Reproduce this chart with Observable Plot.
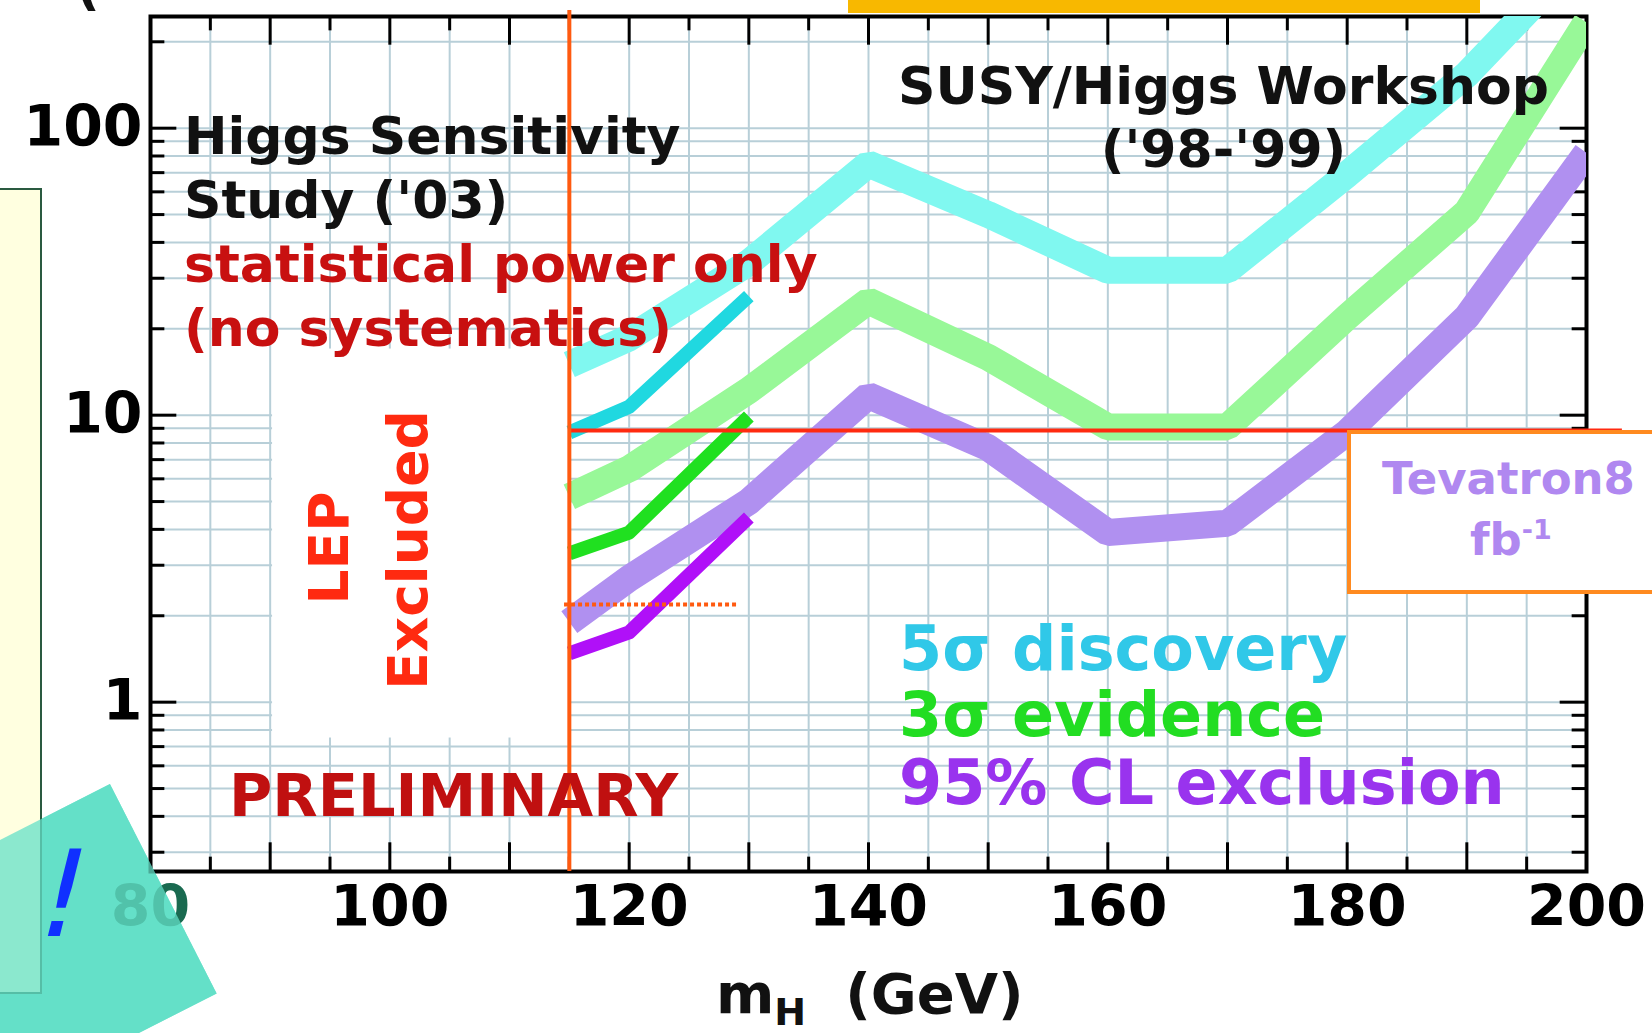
<!DOCTYPE html>
<html><head><meta charset="utf-8">
<script src="https://cdn.jsdelivr.net/npm/d3@7"></script>
<script src="https://cdn.jsdelivr.net/npm/@observablehq/plot@0.6"></script>
<style>
body{margin:0;background:#fff;overflow:hidden}
#wrap{position:relative;width:1652px;height:1033px;font-family:"DejaVu Sans",Verdana,sans-serif;font-weight:bold}
.t{position:absolute;white-space:nowrap;line-height:1}
</style></head><body>
<div id="wrap"></div>
<script>
const xTicks=[80,100,120,140,160,180,200];
const yTicks=[1,10,100];
const mass=[115,120,130,140,150,160,170,180,190,200];
const susy5=[15,18.6,34,75,50,32,32,69,154,420];
const susy3=[5.2,6.5,12.2,25,15.9,9.1,9.1,22,51,234];
const susy95=[1.9,2.7,5.0,11.7,7.7,3.9,4.2,8.7,22,82];
const massHSS=[115,120,130];
const hss5=[8.7,10.7,26];
const hss3=[3.3,3.9,9.9];
const hss95=[1.48,1.75,4.4];
const lepLimit=115, tevLevel=8.85, dotLevel=2.19;

const toRows=(xs,ys)=>xs.map((x,i)=>({x,y:ys[i]}));
const minorX=d3.range(80,201,5);
const minorY=[];[0.1,1,10,100].forEach(d=>{for(let k=2;k<=10;k++)minorY.push(d*k)});
const Y0=0.257,Y1=245;
const gridY=minorY.filter(v=>v>Y0&&v<Y1);
const tick=(f)=>Math.pow(10,f);
const plot=Plot.plot({
  width:1652,height:1033,marginLeft:150,marginRight:66,marginTop:16,marginBottom:162,
  x:{domain:[80,200],label:null},
  y:{type:"log",domain:[Y0,Y1],label:null},
  style:{fontFamily:"DejaVu Sans, sans-serif",background:"transparent"},
  marks:[
    Plot.ruleX(minorX,{y1:Y0,y2:Y1,stroke:"#b8cfd8",strokeWidth:2}),
    Plot.ruleY(gridY,{x1:80,x2:200,stroke:"#b8cfd8",strokeWidth:2}),
    Plot.rect([{x1:90.2,x2:115,y1:0.75,y2:17}],{x1:"x1",x2:"x2",y1:"y1",y2:"y2",fill:"white"}),
    Plot.ruleX(minorX,{x:d=>d,y1:Y0,y2:d=>Y0*tick(d%10===0?0.1:0.05),stroke:"#000",strokeWidth:3}),
    Plot.ruleX(minorX,{x:d=>d,y1:Y1,y2:d=>Y1/tick(d%10===0?0.1:0.05),stroke:"#000",strokeWidth:3}),
    Plot.ruleY(gridY,{y:d=>d,x1:80,x2:d=>80+(yTicks.includes(d)?2.2:1.2),stroke:"#000",strokeWidth:3}),
    Plot.ruleY(gridY,{y:d=>d,x1:200,x2:d=>200-(yTicks.includes(d)?2.2:1.2),stroke:"#000",strokeWidth:3}),
    Plot.frame({stroke:"#000",strokeWidth:4}),
    Plot.line(toRows(mass,susy5),{x:"x",y:"y",stroke:"#80f8f0",strokeWidth:27,strokeLinecap:"butt",strokeLinejoin:"miter",clip:true}),
    Plot.line(toRows(mass,susy3),{x:"x",y:"y",stroke:"#98f898",strokeWidth:27,strokeLinecap:"butt",strokeLinejoin:"miter",clip:true}),
    Plot.line(toRows(mass,susy95),{x:"x",y:"y",stroke:"#b090f0",strokeWidth:27,strokeLinecap:"butt",strokeLinejoin:"miter",clip:true}),
    Plot.line(toRows(massHSS,hss5),{x:"x",y:"y",stroke:"#20d8e0",strokeWidth:14,strokeLinecap:"butt"}),
    Plot.line(toRows(massHSS,hss3),{x:"x",y:"y",stroke:"#20e020",strokeWidth:14,strokeLinecap:"butt"}),
    Plot.line(toRows(massHSS,hss95),{x:"x",y:"y",stroke:"#b010f8",strokeWidth:14,strokeLinecap:"butt"}),
    Plot.ruleY([tevLevel],{x1:lepLimit,x2:203,stroke:"#ff2a10",strokeWidth:4,clip:false}),
    Plot.ruleY([dotLevel],{x1:114.6,x2:129.1,stroke:"#ff5a10",strokeWidth:4,strokeDasharray:"4,3"}),
    Plot.ruleX([lepLimit],{y1:Y0,y2:Y1*1.05,stroke:"#ff5a10",strokeWidth:4,clip:false}),
    Plot.axisX(xTicks,{tickSize:0,fontSize:57,fontWeight:"bold",fill:d=>d===80?"#1a6a50":"#000",tickPadding:14}),
    Plot.axisY(yTicks,{tickSize:0,fontSize:57,fontWeight:"bold",fill:"#000",tickPadding:8,tickFormat:d=>String(d)}),
  ]
});
const wrap=document.getElementById("wrap");
function add(html,css){const d=document.createElement("div");d.className="t";d.innerHTML=html;Object.assign(d.style,css);wrap.appendChild(d);return d;}
add("",{left:"-40px",top:"820px",width:"215px",height:"235px",background:"rgb(100,224,200)",transform:"rotate(-27deg)"});
wrap.appendChild(plot);
plot.style.position="absolute";plot.style.left="0";plot.style.top="0";
add("",{left:"848px",top:"0",width:"632px",height:"13px",background:"#f8b800"});
add("(",{left:"76px",top:"-40px",fontSize:"52px",color:"#111"});
add("",{left:"-2px",top:"188px",width:"40px",height:"802px",background:"#ffffe0",border:"2px solid #2a5a40"});
add("",{left:"-40px",top:"820px",width:"215px",height:"235px",background:"rgba(100,224,200,0.75)",transform:"rotate(-27deg)"});
add("",{left:"1347px",top:"430px",width:"320px",height:"164px",background:"#fff",border:"4px solid #ff8a20",boxSizing:"border-box"});
add("Tevatron8",{left:"1382px",top:"456px",fontSize:"45px",color:"#b088f0"});
add("fb<sup style='font-size:27px'>-1</sup>",{left:"1470px",top:"516px",fontSize:"45px",color:"#b088f0"});
add("Higgs Sensitivity<br>Study ('03)",{left:"184px",top:"104px",fontSize:"52px",color:"#111",lineHeight:"64px"});
add("statistical power only<br>(no systematics)",{left:"184px",top:"232px",fontSize:"52px",color:"#c81010",lineHeight:"64px"});
add("SUSY/Higgs Workshop<br>('98-'99)",{left:"898px",top:"55px",fontSize:"52px",color:"#111",lineHeight:"63px",textAlign:"center"});
add("LEP",{left:"329px",top:"548px",fontSize:"55px",color:"#ff2a10",transform:"translate(-50%,-50%) rotate(-90deg)"});
add("Excluded",{left:"408px",top:"550px",fontSize:"55px",color:"#ff2a10",transform:"translate(-50%,-50%) rotate(-90deg)"});
add("PRELIMINARY",{left:"229px",top:"766px",fontSize:"59px",color:"#c01010"});
add("5σ discovery",{left:"899px",top:"618px",fontSize:"62px",color:"#30c8e8"});
add("3σ evidence",{left:"899px",top:"684px",fontSize:"62px",color:"#22dd22"});
add("95% CL exclusion",{left:"899px",top:"752px",fontSize:"62px",color:"#9933ee"});
add("m<sub style='font-size:38px'>H</sub>&nbsp; (GeV)",{left:"716px",top:"966px",fontSize:"56px",color:"#111"});
add("!",{left:"40px",top:"835px",fontSize:"120px",color:"#1030ff",fontWeight:"normal",transform:"skewX(-14deg)"});
</script></body></html>
